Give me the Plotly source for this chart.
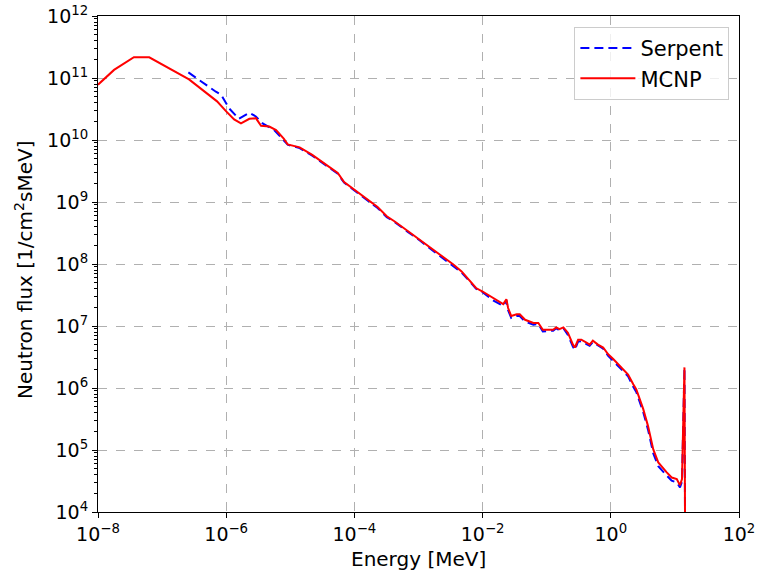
import plotly.graph_objects as go

# MCNP spectrum (energy in MeV, flux in 1/cm^2 s MeV)
mcnp_energy = [1.0e-8, 1.78e-8, 3.63e-8, 6.3e-8, 2.63e-7, 7.2e-7, 1.0e-6, 1.33e-6, 1.7e-6,
               2.3e-6, 2.9e-6, 3.5e-6, 4.7e-6, 6.0e-6, 7.9e-6, 9.1e-6, 1.4e-5, 2.2e-5, 3.6e-5,
               5.5e-5, 6.9e-5, 1.0e-4, 1.5e-4, 2.3e-4, 3.2e-4, 4.2e-4, 6.8e-4, 1.05e-3, 1.66e-3,
               2.7e-3, 3.5e-3, 4.7e-3, 7.9e-3, 1.0e-2, 1.45e-2, 2.1e-2, 2.35e-2, 2.5e-2, 2.8e-2,
               3.4e-2, 3.8e-2, 4.6e-2, 6.2e-2, 7.4e-2, 8.7e-2, 0.126, 0.141, 0.158, 0.182, 0.214,
               0.257, 0.275, 0.309, 0.347, 0.417, 0.468, 0.525, 0.63, 0.76, 0.91, 1.1, 1.48,
               1.86, 2.24, 2.5, 3.2, 3.8, 4.6, 5.5, 7.4, 8.9, 10.7, 12.0, 12.9, 14.1, 14.5]
mcnp_flux = [7.8e10, 1.35e11, 2.16e11, 2.16e11, 9.5e10, 4.2e10, 2.9e10, 2.15e10, 1.85e10,
             2.2e10, 2.25e10, 1.7e10, 1.65e10, 1.45e10, 1.05e10, 8.5e9, 7.6e9, 5.75e9, 4.0e9,
             2.95e9, 2.1e9, 1.58e9, 1.15e9, 8.3e8, 5.9e8, 4.9e8, 3.4e8, 2.45e8, 1.7e8,
             1.17e8, 9.8e7, 7.6e7, 4.1e7, 3.6e7, 2.8e7, 2.25e7, 2.7e7, 1.95e7, 1.45e7,
             1.55e7, 1.55e7, 1.26e7, 1.12e7, 1.12e7, 8.7e6, 8.7e6, 9.5e6, 8.9e6, 9.5e6, 7.8e6,
             5.0e6, 4.5e6, 6.0e6, 6.0e6, 5.4e6, 5.0e6, 5.8e6, 5.0e6, 4.5e6, 3.5e6, 2.9e6, 2.15e6,
             1.65e6, 1.15e6, 9.5e5, 4.6e5, 2.45e5, 1.02e5, 6.3e4, 4.4e4, 3.6e4, 3.4e4, 2.7e4,
             3.4e4, 2.15e6, 1.0e3]

# Serpent spectrum
serpent_energy = [2.57e-7, 4.2e-7, 6.9e-7, 8.3e-7, 1.12e-6, 1.58e-6, 2.3e-6, 2.9e-6, 3.7e-6,
                  5.6e-6, 7.9e-6, 9.1e-6, 1.4e-5, 2.2e-5, 3.6e-5, 5.5e-5, 6.9e-5, 1.0e-4,
                  1.5e-4, 2.3e-4, 3.2e-4, 4.2e-4, 6.8e-4, 1.05e-3, 1.66e-3, 2.7e-3, 3.5e-3,
                  4.7e-3, 7.9e-3, 1.0e-2, 1.45e-2, 2.1e-2, 2.35e-2, 2.5e-2, 2.8e-2, 3.4e-2,
                  3.8e-2, 4.6e-2, 6.2e-2, 7.4e-2, 8.7e-2, 0.126, 0.141, 0.158, 0.182, 0.214,
                  0.257, 0.275, 0.309, 0.347, 0.417, 0.468, 0.525, 0.63, 0.76, 0.91, 1.1, 1.48,
                  1.86, 2.24, 2.5, 3.2, 3.8, 4.6, 5.5, 7.4, 8.9, 10.7, 12.0, 12.9, 14.1, 14.5]
serpent_flux = [1.23e11, 8.5e10, 6.0e10, 5.4e10, 3.2e10, 2.2e10, 2.75e10, 2.4e10, 1.85e10,
                1.45e10, 1.0e10, 8.4e9, 7.4e9, 5.6e9, 3.9e9, 2.85e9, 2.05e9, 1.55e9,
                1.12e9, 8.0e8, 5.7e8, 4.8e8, 3.3e8, 2.4e8, 1.65e8, 1.13e8, 9.5e7,
                7.3e7, 4.0e7, 3.5e7, 2.6e7, 2.1e7, 2.6e7, 1.8e7, 1.35e7, 1.45e7,
                1.45e7, 1.18e7, 1.05e7, 1.08e7, 8.2e6, 8.4e6, 9.2e6, 8.5e6, 9.2e6, 7.2e6,
                4.6e6, 4.1e6, 5.6e6, 5.7e6, 5.1e6, 4.8e6, 5.5e6, 4.8e6, 4.3e6, 3.3e6, 2.7e6, 2.0e6,
                1.55e6, 1.05e6, 8.6e5, 4.1e5, 2.15e5, 8.8e4, 5.5e4, 3.9e4, 3.2e4, 3.0e4, 2.5e4,
                3.1e4, 2.1e6, 1.0e3]

# Tick labels
x_tick_vals = [1e-8, 1e-6, 1e-4, 1e-2, 1e0, 1e2]
x_tick_text = ["10<sup>−8</sup>", "10<sup>−6</sup>", "10<sup>−4</sup>", "10<sup>−2</sup>",
               "10<sup>0</sup>", "10<sup>2</sup>"]
y_tick_vals = [1e4, 1e5, 1e6, 1e7, 1e8, 1e9, 1e10, 1e11, 1e12]
y_tick_text = ["10<sup>4</sup>", "10<sup>5</sup>", "10<sup>6</sup>", "10<sup>7</sup>",
               "10<sup>8</sup>", "10<sup>9</sup>", "10<sup>10</sup>", "10<sup>11</sup>",
               "10<sup>12</sup>"]

x_title = "Energy [MeV]"
y_title = "Neutron flux [1/cm<sup>2</sup>sMeV]"

fig = go.Figure()
fig.add_trace(go.Scatter(x=serpent_energy, y=serpent_flux, mode="lines", name="Serpent",
                         line=dict(color="blue", width=2, dash="9px,5px")))
fig.add_trace(go.Scatter(x=mcnp_energy, y=mcnp_flux, mode="lines", name="MCNP",
                         line=dict(color="red", width=2)))

font_family = "DejaVu Sans"
W, H = 758, 573
ML, MR, MT, MB = 98, 19, 16, 61
pw, ph = W - ML - MR, H - MT - MB
fig.update_layout(
    width=W, height=H,
    margin=dict(l=ML, r=MR, t=MT, b=MB),
    plot_bgcolor="white", paper_bgcolor="white",
    font=dict(family=font_family, size=19, color="black"),
    showlegend=True,
    legend=dict(x=0.985, y=0.978, xanchor="right", yanchor="top",
                bgcolor="rgba(255,255,255,0.8)", bordercolor="#cccccc", borderwidth=1,
                font=dict(size=21), tracegroupgap=0, itemwidth=55),
    annotations=[
        dict(text=x_title, xref="paper", yref="paper", x=0.5, y=-(559 - (H - MB)) / ph,
             xanchor="center", yanchor="middle", showarrow=False, font=dict(size=20)),
        dict(text=y_title, xref="paper", yref="paper", x=(24 - ML) / pw, y=0.5 - 6 / ph,
             xanchor="center", yanchor="middle", textangle=-90, showarrow=False,
             font=dict(size=20)),
    ],
)
fig.update_xaxes(
    type="log", range=[-8, 2], tickvals=x_tick_vals, ticktext=x_tick_text,
    automargin=False, ticklabeloverflow="allow",
    showline=True, linecolor="black", linewidth=1, mirror=True,
    ticks="outside", ticklen=5, tickcolor="black",
    showgrid=True, gridcolor="#b0b0b0", griddash="dash", gridwidth=1,
    zeroline=False, tickfont=dict(size=19),
)
fig.update_yaxes(
    type="log", range=[4, 12], tickvals=y_tick_vals, ticktext=y_tick_text,
    automargin=False, ticklabeloverflow="allow",
    showline=True, linecolor="black", linewidth=1, mirror=True,
    ticks="outside", ticklen=5, tickcolor="black",
    showgrid=True, gridcolor="#b0b0b0", griddash="dash", gridwidth=1,
    zeroline=False, tickfont=dict(size=19),
    minor=dict(ticks="outside", ticklen=3, tickcolor="black", showgrid=False, dtick="D1"),
)

fig.write_html("out.html", config={"displayModeBar": False},
               post_script="document.body.style.margin='0px';")
